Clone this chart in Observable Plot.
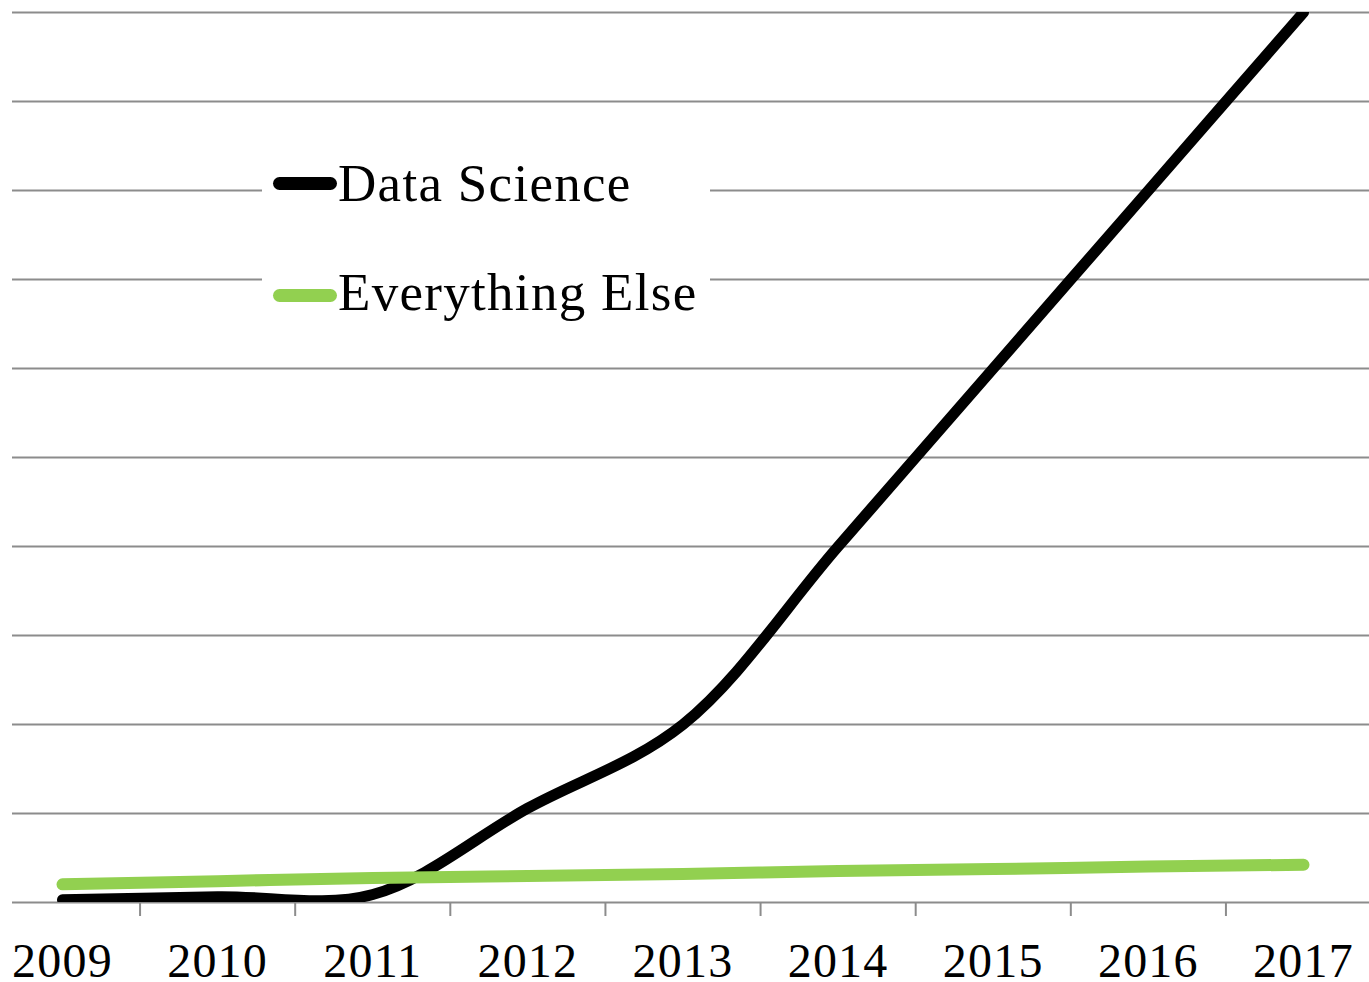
<!DOCTYPE html>
<html>
<head>
<meta charset="utf-8">
<script src="https://cdn.jsdelivr.net/npm/d3@7"></script>
<script src="https://cdn.jsdelivr.net/npm/@observablehq/plot@0.6"></script>
<style>
  html, body { margin: 0; padding: 0; background: #fff; }
  #wrap { position: relative; width: 1369px; height: 982px; font-family: "Liberation Serif", serif; }
  #legend { position: absolute; left: 262px; top: 150px; width: 448px; height: 180px; background: #fff; }
  .item { position: absolute; left: 0; height: 52px; }
  .swatch { position: absolute; left: 11px; width: 64px; height: 13px; border-radius: 6.5px; }
  .label { position: absolute; left: 76px; top: 0; font-size: 53px; line-height: 52px; letter-spacing: 1.3px; white-space: nowrap; color: #000; }
  #chart svg text { letter-spacing: 1.2px; }
</style>
</head>
<body>
<div id="wrap">
  <div id="chart"></div>
  <div id="legend"></div>
</div>
<script>
// ---- data ----
const years = [2009, 2010, 2011, 2012, 2013, 2014, 2015, 2016, 2017];
const dataScience = [0.03, 0.065, 0.09, 1.06, 2.0, 4.0, 6.0, 8.0, 10.0];
const everythingElse = [0.204, 0.24, 0.275, 0.297, 0.32, 0.354, 0.376, 0.404, 0.424];
const seriesNames = ["Data Science", "Everything Else"];
const seriesColors = ["#000000", "#92d050"];
const yGrid = [0, 1, 2, 3, 4, 5, 6, 7, 8, 9, 10];
const categoryBoundaries = years.slice(0, -1).map(y => y + 0.5);

const rowsDS = years.map((year, i) => ({year, value: dataScience[i]}));
const rowsEE = years.map((year, i) => ({year, value: everythingElse[i]}));

const chart = Plot.plot({
  width: 1369,
  height: 982,
  marginTop: 12,
  marginBottom: 80,
  marginLeft: 12,
  marginRight: 0,
  style: {fontFamily: "Liberation Serif, serif", background: "#fff", overflow: "visible"},
  x: {domain: [2009, 2017], range: [62, 1303], axis: null, label: null},
  y: {domain: [0, 10], axis: null, label: null},
  marks: [
    Plot.ruleY(yGrid, {stroke: "#8c8c8c", strokeWidth: 2}),
    Plot.axisX(categoryBoundaries, {tickSize: 14, tickFormat: () => "", label: null, stroke: "#8c8c8c", strokeWidth: 2, strokeOpacity: 1}),
    Plot.axisX(years, {tickSize: 0, tickPadding: 40, tickFormat: d => String(d), label: null, fontSize: 48, fill: "#000"}),
    Plot.line(rowsDS, {x: "year", y: "value", stroke: seriesColors[0], strokeWidth: 11, curve: "catmull-rom", clip: true}),
    Plot.line(rowsEE, {x: "year", y: "value", stroke: seriesColors[1], strokeWidth: 12, curve: "catmull-rom"})
  ]
});
document.getElementById("chart").appendChild(chart);

// legend (inside plot area, white box over gridlines)
const legend = document.getElementById("legend");
const tops = [7, 116];
seriesNames.forEach((name, i) => {
  const item = document.createElement("div");
  item.className = "item";
  item.style.top = tops[i] + "px";
  const sw = document.createElement("span");
  sw.className = "swatch";
  sw.style.background = seriesColors[i];
  sw.style.top = (i === 0 ? 20 : 23) + "px";
  const lb = document.createElement("span");
  lb.className = "label";
  lb.textContent = name;
  item.appendChild(sw);
  item.appendChild(lb);
  legend.appendChild(item);
});
</script>
</body>
</html>
